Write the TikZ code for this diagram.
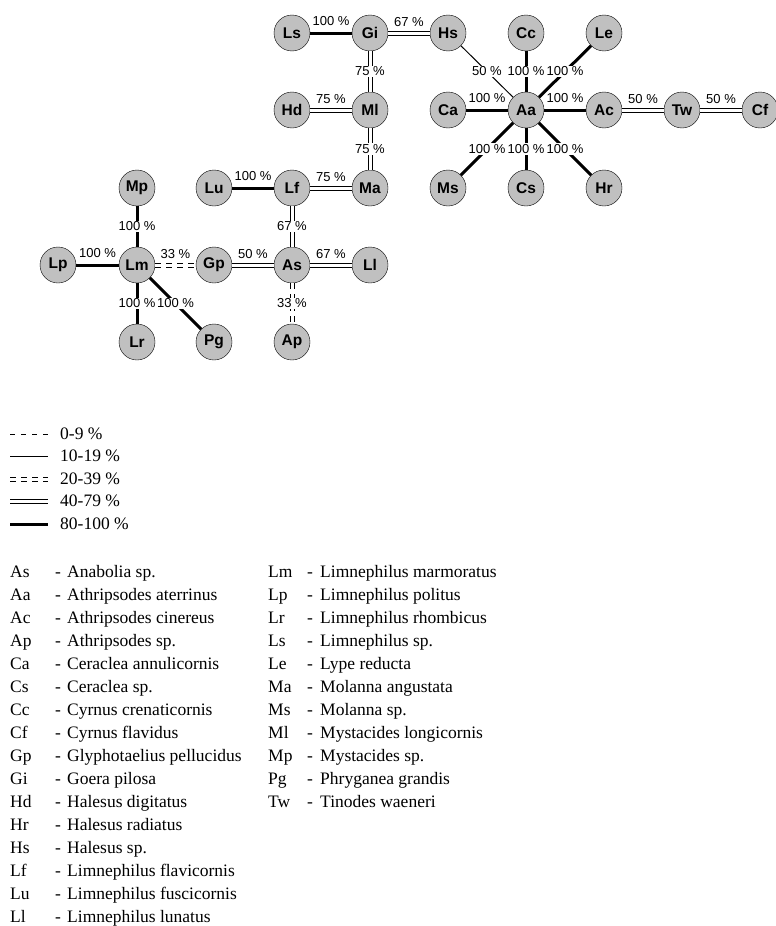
\documentclass[tikz,border=0pt]{standalone}
\usepackage{fontspec}
\setmainfont{Liberation Serif}
\setsansfont{Liberation Sans}
\definecolor{spgray}{RGB}{192,192,192}
\tikzset{
  sp/.style={circle, draw=black, fill=spgray, minimum size=36pt, inner sep=0pt,
    font=\sffamily\bfseries\fontsize{15.5}{15.5}\selectfont},
  pc/.style={font=\sffamily\fontsize{13}{13}\selectfont, inner sep=1pt},
  pcup/.style={pc, above=5pt},
  pcon/.style={pc, fill=white},
  ln100/.style={line width=3pt},
  ln40/.style={double, line width=1pt, double distance=3pt},
  ln20/.style={ln40, dash pattern=on 6pt off 5pt},
  ln10/.style={line width=1pt},
  ln0/.style={line width=1pt, dash pattern=on 5pt off 6pt},
  lgd/.style={anchor=base west, inner sep=0pt, font=\fontsize{17.5}{23}\selectfont}
}
\begin{document}
\begin{tikzpicture}[x=1pt,y=-1pt]
\useasboundingbox (0,0) rectangle (776,926);

\node[sp] (Ls) at (292,33) {Ls};
\node[sp] (Gi) at (370,33) {Gi};
\node[sp] (Hs) at (448,33) {Hs};
\node[sp] (Cc) at (526,33) {Cc};
\node[sp] (Le) at (604,33) {Le};

\node[sp] (Hd) at (292,110) {Hd};
\node[sp] (Ml) at (370,110) {Ml};
\node[sp] (Ca) at (448,110) {Ca};
\node[sp] (Aa) at (526,110) {Aa};
\node[sp] (Ac) at (604,110) {Ac};
\node[sp] (Tw) at (682,110) {Tw};
\node[sp] (Cf) at (760,110) {Cf};

\node[sp] (Mp) at (137,188) {Mp};
\node[sp] (Lu) at (214,188) {Lu};
\node[sp] (Lf) at (292,188) {Lf};
\node[sp] (Ma) at (370,188) {Ma};
\node[sp] (Ms) at (448,188) {Ms};
\node[sp] (Cs) at (526,188) {Cs};
\node[sp] (Hr) at (604,188) {Hr};

\node[sp] (Lp) at (58,265) {Lp};
\node[sp] (Lm) at (137,265) {Lm};
\node[sp] (Gp) at (214,265) {Gp};
\node[sp] (As) at (292,265) {As};
\node[sp] (Ll) at (370,265) {Ll};

\node[sp] (Lr) at (137,342) {Lr};
\node[sp] (Pg) at (214,342) {Pg};
\node[sp] (Ap) at (292,342) {Ap};

\draw[ln100] (Ls) -- node[pcup] {100 \%} (Gi);
\draw[ln40] (Gi) -- node[pcup] {67 \%} (Hs);
\draw[ln40] (Gi) -- node[pcon] {75 \%} (Ml);
\draw[ln40] (Hd) -- node[pcup] {75 \%} (Ml);
\draw[ln40] (Ml) -- node[pcon] {75 \%} (Ma);
\draw[ln100] (Lu) -- node[pcup] {100 \%} (Lf);
\draw[ln40] (Lf) -- node[pcup] {75 \%} (Ma);
\draw[ln40] (Lf) -- node[pcon] {67 \%} (As);
\draw[ln40] (Gp) -- node[pcup] {50 \%} (As);
\draw[ln40] (As) -- node[pcup] {67 \%} (Ll);
\draw[ln20] (As) -- node[pcon] {33 \%} (Ap);
\draw[ln20] (Lm) -- node[pcup] {33 \%} (Gp);
\draw[ln100] (Lp) -- node[pcup] {100 \%} (Lm);
\draw[ln100] (Mp) -- node[pcon] {100 \%} (Lm);
\draw[ln100] (Lm) -- node[pcon] {100 \%} (Lr);
\draw[ln100] (Lm) -- node[pcon] {100 \%} (Pg);

\draw[ln10] (Hs) -- node[pcon] {50 \%} (Aa);
\draw[ln100] (Cc) -- node[pcon] {100 \%} (Aa);
\draw[ln100] (Le) -- node[pcon] {100 \%} (Aa);
\draw[ln100] (Ca) -- node[pcup] {100 \%} (Aa);
\draw[ln100] (Aa) -- node[pcup] {100 \%} (Ac);
\draw[ln40] (Ac) -- node[pcup] {50 \%} (Tw);
\draw[ln40] (Tw) -- node[pcup] {50 \%} (Cf);
\draw[ln100] (Aa) -- node[pcon] {100 \%} (Ms);
\draw[ln100] (Aa) -- node[pcon] {100 \%} (Cs);
\draw[ln100] (Aa) -- node[pcon] {100 \%} (Hr);

\draw[ln0] (10,434) -- (48,434);
\draw[ln10] (10,456) -- (48,456);
\draw[ln20] (10,479) -- (48,479);
\draw[ln40] (10,501) -- (48,501);
\draw[ln100] (10,524) -- (48,524);
\node[lgd] (l0) at (60,439) {0-9 \%};
\node[lgd] (l10) at (60,461) {10-19 \%};
\node[lgd] (l20) at (60,484) {20-39 \%};
\node[lgd] (l40) at (60,506) {40-79 \%};
\node[lgd] (l80) at (60,529) {80-100 \%};

\node[lgd] (keyA) at (10,577) {\begin{tabular}[t]{@{}p{45pt}@{}p{12pt}@{}l@{}}
As & - & Anabolia sp.\\
Aa & - & Athripsodes aterrinus\\
Ac & - & Athripsodes cinereus\\
Ap & - & Athripsodes sp.\\
Ca & - & Ceraclea annulicornis\\
Cs & - & Ceraclea sp.\\
Cc & - & Cyrnus crenaticornis\\
Cf & - & Cyrnus flavidus\\
Gp & - & Glyphotaelius pellucidus\\
Gi & - & Goera pilosa\\
Hd & - & Halesus digitatus\\
Hr & - & Halesus radiatus\\
Hs & - & Halesus sp.\\
Lf & - & Limnephilus flavicornis\\
Lu & - & Limnephilus fuscicornis\\
Ll & - & Limnephilus lunatus
\end{tabular}};
\node[lgd] (keyB) at (268,577) {\begin{tabular}[t]{@{}p{39pt}@{}p{13pt}@{}l@{}}
Lm & - & Limnephilus marmoratus\\
Lp & - & Limnephilus politus\\
Lr & - & Limnephilus rhombicus\\
Ls & - & Limnephilus sp.\\
Le & - & Lype reducta\\
Ma & - & Molanna angustata\\
Ms & - & Molanna sp.\\
Ml & - & Mystacides longicornis\\
Mp & - & Mystacides sp.\\
Pg & - & Phryganea grandis\\
Tw & - & Tinodes waeneri
\end{tabular}};
\end{tikzpicture}
\end{document}
